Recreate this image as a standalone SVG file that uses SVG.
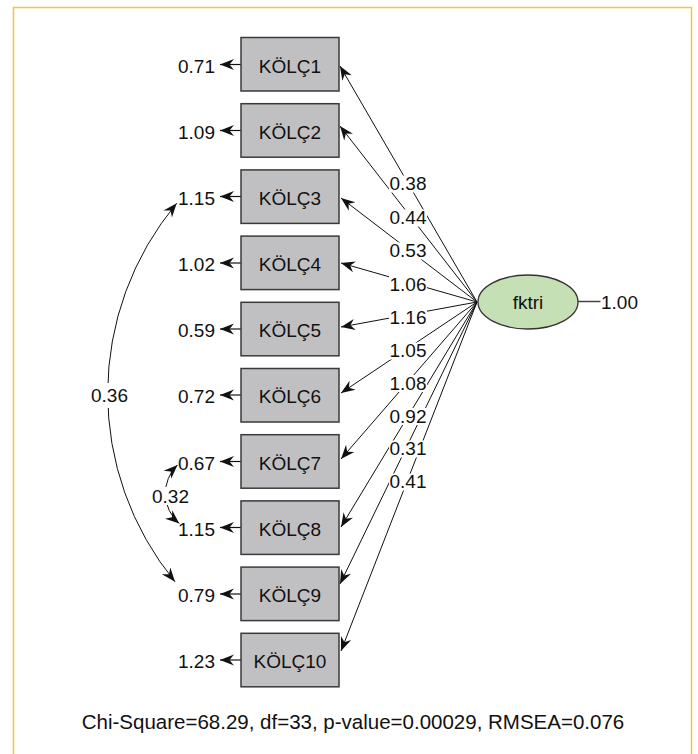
<svg xmlns="http://www.w3.org/2000/svg" width="698" height="754" viewBox="0 0 698 754">
<style>
text{font-family:"Liberation Sans",Arial,sans-serif;font-size:19px;fill:#111}
.box{fill:#c0c0c2;stroke:#3a3a3a;stroke-width:1.5}
.ln{stroke:#111;stroke-width:1;fill:none}
.err{stroke:#111;stroke-width:1.2;fill:none}
.bg{fill:#fff;stroke:none}
.mid{text-anchor:middle}
.end{text-anchor:end}
</style>
<defs>
<marker id="ah" viewBox="-15 -7 16 14" refX="0" refY="0" markerWidth="16" markerHeight="14" markerUnits="userSpaceOnUse" orient="auto-start-reverse">
<path d="M0,0 L-14,-5.5 L-9.5,0 L-14,5.5 Z" fill="#111"/>
</marker>
</defs>
<rect x="13.5" y="7.5" width="678" height="770" fill="#fff" stroke="#f7c43a" stroke-width="1.5"/>

<g id="connectors">
<g id="loadings">
<line class="ln" x1="477" y1="302" x2="340" y2="66" marker-end="url(#ah)"/>
<line class="ln" x1="477" y1="302" x2="340" y2="126" marker-end="url(#ah)"/>
<line class="ln" x1="477" y1="302" x2="341" y2="198" marker-end="url(#ah)"/>
<line class="ln" x1="477" y1="302" x2="341" y2="263" marker-end="url(#ah)"/>
<line class="ln" x1="477" y1="302" x2="341" y2="327" marker-end="url(#ah)"/>
<line class="ln" x1="477" y1="302" x2="341" y2="393" marker-end="url(#ah)"/>
<line class="ln" x1="477" y1="302" x2="341" y2="459" marker-end="url(#ah)"/>
<line class="ln" x1="477" y1="302" x2="341" y2="527" marker-end="url(#ah)"/>
<line class="ln" x1="477" y1="302" x2="340" y2="584" marker-end="url(#ah)"/>
<line class="ln" x1="477" y1="302" x2="341" y2="651" marker-end="url(#ah)"/>
</g>
<g id="loading-labels">
<rect class="bg" x="389" y="175.5" width="38" height="17"/>
<rect class="bg" x="389" y="209.5" width="38" height="17"/>
<rect class="bg" x="389" y="242.5" width="38" height="17"/>
<rect class="bg" x="389" y="276" width="38" height="17"/>
<rect class="bg" x="389" y="309.5" width="38" height="17"/>
<rect class="bg" x="389" y="342.5" width="38" height="17"/>
<rect class="bg" x="389" y="375" width="38" height="17"/>
<rect class="bg" x="389" y="408" width="38" height="17"/>
<rect class="bg" x="389" y="440.5" width="38" height="17"/>
<rect class="bg" x="389" y="473.5" width="38" height="17"/>
<text class="mid" x="408" y="190">0.38</text>
<text class="mid" x="408" y="224">0.44</text>
<text class="mid" x="408" y="257">0.53</text>
<text class="mid" x="408" y="290.5">1.06</text>
<text class="mid" x="408" y="324">1.16</text>
<text class="mid" x="408" y="357">1.05</text>
<text class="mid" x="408" y="389.5">1.08</text>
<text class="mid" x="408" y="422.5">0.92</text>
<text class="mid" x="408" y="455">0.31</text>
<text class="mid" x="408" y="488">0.41</text>
</g>
<g id="errors">
<line class="err" x1="241" y1="64.5" x2="220" y2="64.5" marker-end="url(#ah)"/>
<line class="err" x1="241" y1="130.5" x2="220" y2="130.5" marker-end="url(#ah)"/>
<line class="err" x1="241" y1="196.5" x2="220" y2="196.5" marker-end="url(#ah)"/>
<line class="err" x1="241" y1="263" x2="220" y2="263" marker-end="url(#ah)"/>
<line class="err" x1="241" y1="329" x2="220" y2="329" marker-end="url(#ah)"/>
<line class="err" x1="241" y1="395" x2="220" y2="395" marker-end="url(#ah)"/>
<line class="err" x1="241" y1="461.5" x2="220" y2="461.5" marker-end="url(#ah)"/>
<line class="err" x1="241" y1="527.5" x2="220" y2="527.5" marker-end="url(#ah)"/>
<line class="err" x1="241" y1="594" x2="220" y2="594" marker-end="url(#ah)"/>
<line class="err" x1="241" y1="660" x2="220" y2="660" marker-end="url(#ah)"/>
<text class="end" x="215" y="72.5">0.71</text>
<text class="end" x="215" y="138.5">1.09</text>
<text class="end" x="215" y="204.5">1.15</text>
<text class="end" x="215" y="271">1.02</text>
<text class="end" x="215" y="337">0.59</text>
<text class="end" x="215" y="403">0.72</text>
<text class="end" x="215" y="469.5">0.67</text>
<text class="end" x="215" y="535.5">1.15</text>
<text class="end" x="215" y="602">0.79</text>
<text class="end" x="215" y="668">1.23</text>
</g>
<g id="covariances">
<path class="ln" d="M176.7,203.3 A296.7,296.7 0 0 0 175,581.7" marker-start="url(#ah)" marker-end="url(#ah)"/>
<rect class="bg" x="90" y="383" width="39" height="25"/>
<text class="mid" x="109.5" y="402">0.36</text>
<path class="ln" d="M177.5,465 A39.4,39.4 0 0 0 179.3,523.5" marker-start="url(#ah)" marker-end="url(#ah)"/>
<rect class="bg" x="153" y="487" width="36" height="18"/>
<text class="mid" x="170.5" y="503">0.32</text>
</g>
<g id="factor-variance">
<line x1="578" y1="301.5" x2="600.5" y2="301.5" stroke="#444" stroke-width="1.5"/>
<text x="601" y="308.5">1.00</text>
</g>
</g>

<g id="K1"><rect class="box" x="241" y="37.5" width="98" height="53.5"/><text class="mid" x="290" y="72.5">KÖLÇ1</text></g>
<g id="K2"><rect class="box" x="241" y="103.7" width="98" height="53.5"/><text class="mid" x="290" y="138.5">KÖLÇ2</text></g>
<g id="K3"><rect class="box" x="241" y="169.9" width="98" height="53.5"/><text class="mid" x="290" y="204.5">KÖLÇ3</text></g>
<g id="K4"><rect class="box" x="241" y="236.1" width="98" height="53.5"/><text class="mid" x="290" y="271">KÖLÇ4</text></g>
<g id="K5"><rect class="box" x="241" y="302.3" width="98" height="53.5"/><text class="mid" x="290" y="337">KÖLÇ5</text></g>
<g id="K6"><rect class="box" x="241" y="368.5" width="98" height="53.5"/><text class="mid" x="290" y="403">KÖLÇ6</text></g>
<g id="K7"><rect class="box" x="241" y="434.7" width="98" height="53.5"/><text class="mid" x="290" y="469.5">KÖLÇ7</text></g>
<g id="K8"><rect class="box" x="241" y="500.9" width="98" height="53.5"/><text class="mid" x="290" y="535.5">KÖLÇ8</text></g>
<g id="K9"><rect class="box" x="241" y="567.1" width="98" height="53.5"/><text class="mid" x="290" y="602">KÖLÇ9</text></g>
<g id="K10"><rect class="box" x="241" y="633.3" width="98" height="53.5"/><text class="mid" x="290" y="668">KÖLÇ10</text></g>

<g id="fktri"><ellipse cx="528" cy="302" rx="50" ry="27" fill="#c5e0b4" stroke="#333" stroke-width="1.3"/><text class="mid" x="528" y="308.5">fktri</text></g>

<g id="fit"><text class="mid" x="353" y="729" style="font-size:20.5px">Chi-Square=68.29, df=33, p-value=0.00029, RMSEA=0.076</text></g>
</svg>
